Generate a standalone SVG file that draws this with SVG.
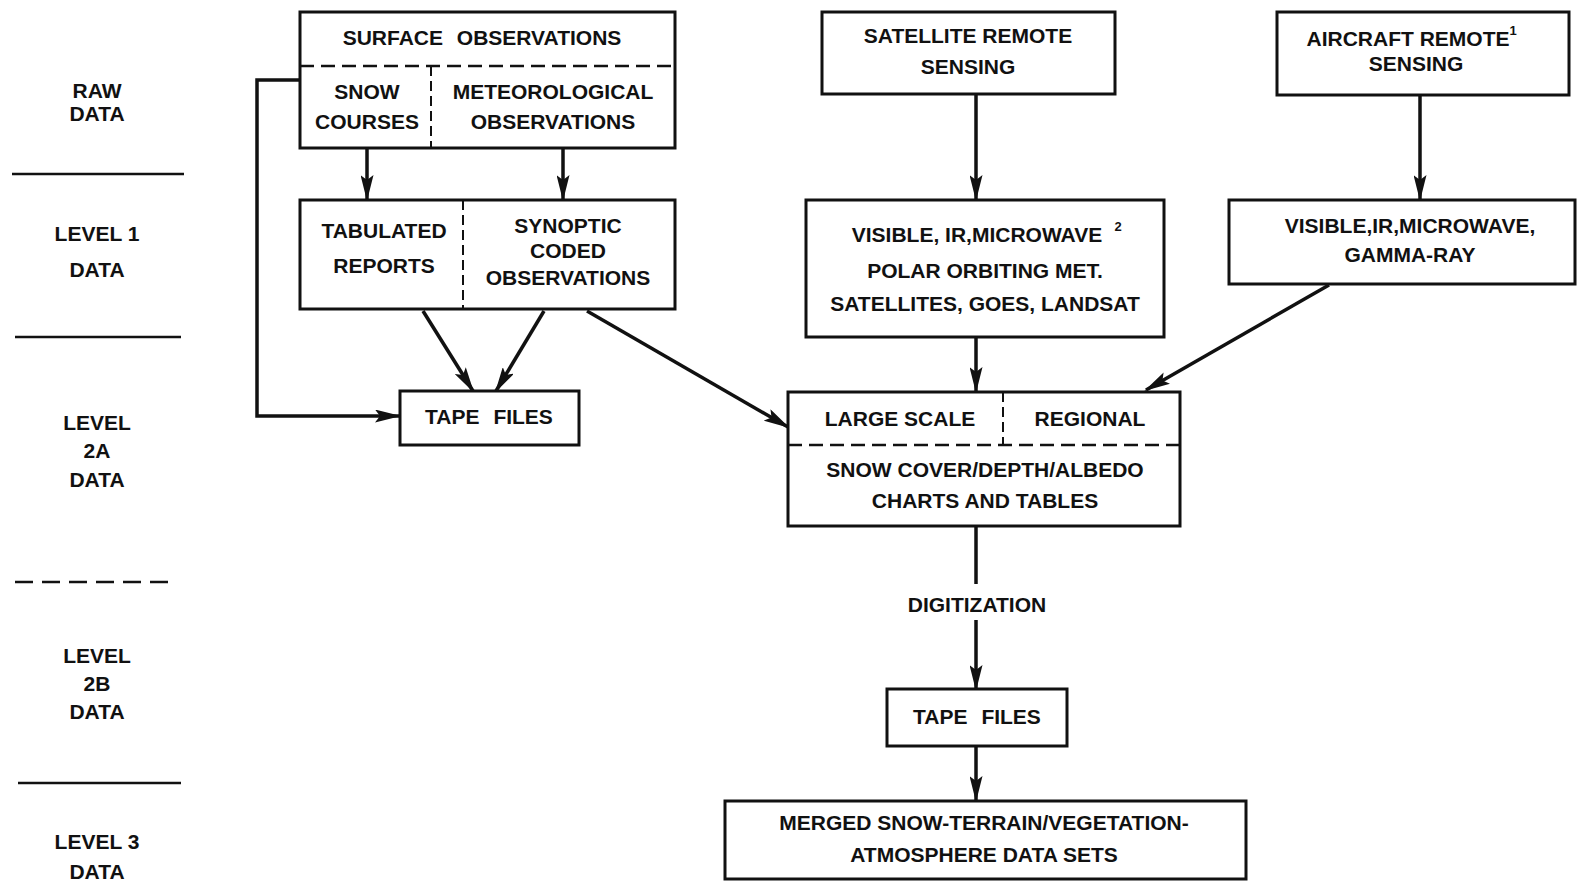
<svg xmlns="http://www.w3.org/2000/svg" width="1579" height="881" viewBox="0 0 1579 881">
<style>
  .box { fill: #fff; stroke: #111; stroke-width: 3; }
  .dash { fill: none; stroke: #111; stroke-width: 2.5; stroke-dasharray: 14 7; }
  .vdash { fill: none; stroke: #111; stroke-width: 2; stroke-dasharray: 10 5; }
  .conn { fill: none; stroke: #111; stroke-width: 3.5; }
  .rule { fill: none; stroke: #111; stroke-width: 2.5; }
  text { font-family: "Liberation Sans", Arial, sans-serif; font-weight: bold; font-size: 21px; fill: #111; text-anchor: middle; }
  .sup { font-size: 13px; }
</style>
<defs>
  <marker id="ah" markerUnits="userSpaceOnUse" markerWidth="26" markerHeight="13" refX="24" refY="6.5" orient="auto" viewBox="0 0 26 13">
    <path d="M0,0 L26,6.5 L0,13 L5,6.5 Z" fill="#111"/>
  </marker>
</defs>
<rect width="1579" height="881" fill="#fff"/>

<g id="levels">
  <text x="97" y="98">RAW</text>
  <text x="97" y="121">DATA</text>
  <line class="rule" x1="12" y1="174" x2="184" y2="174"/>
  <text x="97" y="241">LEVEL  1</text>
  <text x="97" y="277">DATA</text>
  <line class="rule" x1="15" y1="337" x2="181" y2="337"/>
  <text x="97" y="430">LEVEL</text>
  <text x="97" y="458">2A</text>
  <text x="97" y="487">DATA</text>
  <line class="rule" x1="15" y1="582" x2="176" y2="582" stroke-dasharray="18 9"/>
  <text x="97" y="663">LEVEL</text>
  <text x="97" y="691">2B</text>
  <text x="97" y="719">DATA</text>
  <line class="rule" x1="18" y1="783" x2="181" y2="783"/>
  <text x="97" y="849">LEVEL  3</text>
  <text x="97" y="879">DATA</text>
</g>

<g id="connectors">
  <line class="conn" x1="367" y1="148" x2="367" y2="199" marker-end="url(#ah)"/>
  <line class="conn" x1="563" y1="148" x2="563" y2="199" marker-end="url(#ah)"/>
  <line class="conn" x1="423" y1="311" x2="473" y2="391" marker-end="url(#ah)"/>
  <line class="conn" x1="544" y1="311" x2="496" y2="391" marker-end="url(#ah)"/>
  <line class="conn" x1="587" y1="311" x2="788" y2="427" marker-end="url(#ah)"/>
  <path class="conn" d="M299,80 H257 V416 H399" marker-end="url(#ah)"/>
  <line class="conn" x1="976" y1="95" x2="976" y2="199" marker-end="url(#ah)"/>
  <line class="conn" x1="976" y1="338" x2="976" y2="391" marker-end="url(#ah)"/>
  <line class="conn" x1="1420" y1="96" x2="1420" y2="199" marker-end="url(#ah)"/>
  <line class="conn" x1="1329" y1="285" x2="1146" y2="390" marker-end="url(#ah)"/>
  <line class="conn" x1="976" y1="527" x2="976" y2="584"/>
  <line class="conn" x1="976" y1="620" x2="976" y2="689" marker-end="url(#ah)"/>
  <line class="conn" x1="976" y1="746" x2="976" y2="800" marker-end="url(#ah)"/>
  <text x="977" y="612">DIGITIZATION</text>
</g>

<g id="surface-observations">
  <rect class="box" x="300" y="12" width="375" height="136"/>
  <line class="dash" x1="300" y1="66" x2="675" y2="66"/>
  <line class="vdash" x1="431" y1="66" x2="431" y2="148"/>
  <text x="482" y="45" word-spacing="8">SURFACE OBSERVATIONS</text>
  <text x="367" y="99">SNOW</text>
  <text x="367" y="129">COURSES</text>
  <text x="553" y="99">METEOROLOGICAL</text>
  <text x="553" y="129">OBSERVATIONS</text>
</g>

<g id="tabulated-synoptic">
  <rect class="box" x="300" y="200" width="375" height="109"/>
  <line class="vdash" x1="463" y1="200" x2="463" y2="309"/>
  <text x="384" y="238">TABULATED</text>
  <text x="384" y="273">REPORTS</text>
  <text x="568" y="233">SYNOPTIC</text>
  <text x="568" y="258">CODED</text>
  <text x="568" y="285">OBSERVATIONS</text>
</g>

<g id="tape-files-1">
  <rect class="box" x="400" y="391" width="179" height="54"/>
  <text x="489" y="424" word-spacing="8">TAPE FILES</text>
</g>

<g id="satellite-remote-sensing">
  <rect class="box" x="822" y="12" width="293" height="82"/>
  <text x="968" y="43">SATELLITE REMOTE</text>
  <text x="968" y="74">SENSING</text>
</g>

<g id="satellite-sensors">
  <rect class="box" x="806" y="200" width="358" height="137"/>
  <text x="977" y="242">VISIBLE, IR,MICROWAVE</text>
  <text class="sup" x="1118" y="231">2</text>
  <text x="985" y="278">POLAR ORBITING MET.</text>
  <text x="985" y="311">SATELLITES, GOES, LANDSAT</text>
</g>

<g id="aircraft-remote-sensing">
  <rect class="box" x="1277" y="12" width="292" height="83"/>
  <text x="1408" y="46">AIRCRAFT REMOTE</text>
  <text class="sup" x="1513" y="35">1</text>
  <text x="1416" y="71">SENSING</text>
</g>

<g id="aircraft-sensors">
  <rect class="box" x="1229" y="200" width="346" height="84"/>
  <text x="1410" y="233">VISIBLE,IR,MICROWAVE,</text>
  <text x="1410" y="262">GAMMA-RAY</text>
</g>

<g id="snow-charts">
  <rect class="box" x="788" y="392" width="392" height="134"/>
  <line class="dash" x1="788" y1="445" x2="1180" y2="445"/>
  <line class="vdash" x1="1003" y1="392" x2="1003" y2="445" stroke-dasharray="6 4"/>
  <text x="900" y="426">LARGE SCALE</text>
  <text x="1090" y="426">REGIONAL</text>
  <text x="985" y="477">SNOW COVER/DEPTH/ALBEDO</text>
  <text x="985" y="508">CHARTS AND TABLES</text>
</g>

<g id="tape-files-2">
  <rect class="box" x="887" y="689" width="180" height="57"/>
  <text x="977" y="724" word-spacing="8">TAPE FILES</text>
</g>

<g id="merged-data-sets">
  <rect class="box" x="725" y="801" width="521" height="78"/>
  <text x="984" y="830">MERGED SNOW-TERRAIN/VEGETATION-</text>
  <text x="984" y="862">ATMOSPHERE DATA SETS</text>
</g>
</svg>
